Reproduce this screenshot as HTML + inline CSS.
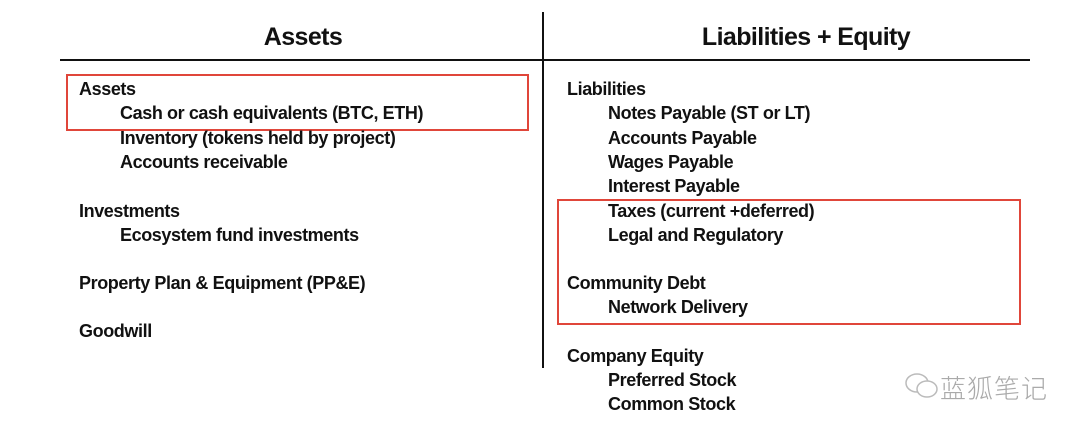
<!DOCTYPE html>
<html><head><meta charset="utf-8"><style>
body{margin:0;width:1080px;height:435px;background:#fff;position:relative;overflow:hidden;font-family:"Liberation Sans",sans-serif;font-weight:bold;color:#111}
.t{position:absolute;font-size:18px;letter-spacing:-0.4px;line-height:24px;white-space:nowrap;transform:translateY(-13px)}
.h{position:absolute;font-size:25px;letter-spacing:-0.6px;line-height:30px;white-space:nowrap;transform:translate(-50%,-15px)}
.box{position:absolute;border:2px solid #e0463a}
</style></head><body>
<div style="position:absolute;left:60px;top:59px;width:970px;height:2px;background:#111"></div>
<div style="position:absolute;left:542px;top:12px;width:2px;height:356px;background:#111"></div>
<div class="h" style="left:303px;top:37px">Assets</div>
<div class="h" style="left:806px;top:37px">Liabilities + Equity</div>
<div class="box" style="left:66px;top:74px;width:459px;height:53px"></div>
<div class="box" style="left:557px;top:199px;width:460px;height:122px"></div>

<div class="t" style="left:79px;top:90px">Assets</div>
<div class="t" style="left:120px;top:114px">Cash or cash equivalents (BTC, ETH)</div>
<div class="t" style="left:120px;top:139px">Inventory (tokens held by project)</div>
<div class="t" style="left:120px;top:163px">Accounts receivable</div>
<div class="t" style="left:79px;top:212px">Investments</div>
<div class="t" style="left:120px;top:236px">Ecosystem fund investments</div>
<div class="t" style="left:79px;top:284px">Property Plan &amp; Equipment (PP&amp;E)</div>
<div class="t" style="left:79px;top:332px">Goodwill</div>

<div class="t" style="left:567px;top:90px">Liabilities</div>
<div class="t" style="left:608px;top:114px">Notes Payable (ST or LT)</div>
<div class="t" style="left:608px;top:139px">Accounts Payable</div>
<div class="t" style="left:608px;top:163px">Wages Payable</div>
<div class="t" style="left:608px;top:187px">Interest Payable</div>
<div class="t" style="left:608px;top:212px">Taxes (current +deferred)</div>
<div class="t" style="left:608px;top:236px">Legal and Regulatory</div>
<div class="t" style="left:567px;top:284px">Community Debt</div>
<div class="t" style="left:608px;top:308px">Network Delivery</div>
<div class="t" style="left:567px;top:357px">Company Equity</div>
<div class="t" style="left:608px;top:381px">Preferred Stock</div>
<div class="t" style="left:608px;top:405px">Common Stock</div>

<svg style="position:absolute;left:904px;top:372px" width="36" height="28" viewBox="0 0 36 28">
<ellipse cx="13" cy="11" rx="11" ry="9" fill="none" stroke="#bbb" stroke-width="1.5"/>
<ellipse cx="23" cy="17" rx="10" ry="8" fill="#fff" stroke="#bbb" stroke-width="1.5"/>
</svg>
<div style="position:absolute;left:940px;top:369px;font-family:'Noto Sans CJK SC',sans-serif;font-weight:300;font-size:26px;color:#aaa;letter-spacing:1px">蓝狐笔记</div>
</body></html>
